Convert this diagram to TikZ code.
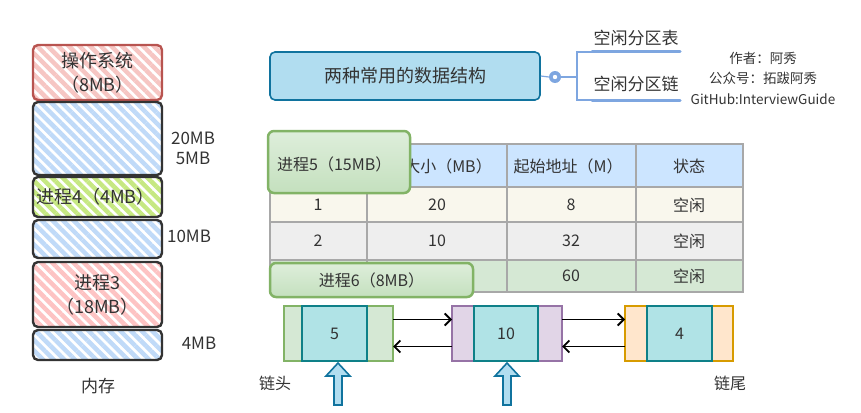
\documentclass[tikz,border=0pt]{standalone}
\usepackage{fontspec}
\setmainfont{Noto Sans CJK SC}
\usetikzlibrary{patterns.meta,arrows.meta}
\newcommand{\fsz}[2]{\fontsize{#1pt}{#2pt}\selectfont}
\definecolor{osred}{HTML}{B85450}
\definecolor{ospink}{HTML}{F6C6C3}
\definecolor{hblue}{HTML}{C0DAF8}
\definecolor{hgreen}{HTML}{C6E882}
\definecolor{hred}{HTML}{FDC3C3}
\definecolor{dark}{HTML}{333333}
\definecolor{tbfill}{HTML}{B1DDF0}
\definecolor{tbline}{HTML}{10739E}
\definecolor{treeblue}{HTML}{7EA6E0}
\definecolor{hdr}{HTML}{CCE5FF}
\definecolor{rowa}{HTML}{F9F7ED}
\definecolor{rowb}{HTML}{EEEEEE}
\definecolor{rowc}{HTML}{D5E8D4}
\definecolor{grid}{HTML}{A8A8A8}
\definecolor{gfill}{HTML}{D5E8D4}
\definecolor{gline}{HTML}{82B366}
\definecolor{pfill}{HTML}{E1D5E7}
\definecolor{pline}{HTML}{9673A6}
\definecolor{ofill}{HTML}{FFE6CC}
\definecolor{oline}{HTML}{D79B00}
\definecolor{cfill}{HTML}{B0E3E6}
\definecolor{cline}{HTML}{0E8088}
\definecolor{txt}{HTML}{333333}
\tikzset{
  membox/.style={draw=dark, line width=2.4pt, rounded corners=5pt, anchor=north west,
    minimum width=129pt, inner sep=0pt, outer sep=0pt,
    pattern={Lines[angle=-45,distance=7.5pt,line width=4.5pt]}, pattern color=#1},
  memtxt/.style={font=\fsz{18}{24}, align=center, inner sep=0pt},
  tbtxt/.style={font=\fsz{16}{18}, inner sep=0pt},
  procbox/.style={draw=gline, line width=2.5pt, rounded corners=6pt, anchor=north west,
    inner sep=0pt, outer sep=0pt,
    top color={rgb,255:red,222;green,238;blue,219}, bottom color={rgb,255:red,196;green,224;blue,190}},
  outerbox/.style={draw=#1, line width=1.6pt, anchor=north west, inner sep=0pt, outer sep=0pt, minimum height=55pt},
  innerbox/.style={draw=cline, fill=cfill, line width=1.6pt, anchor=north west, inner sep=0pt, outer sep=0pt,
    minimum height=55pt, minimum width=65pt, font=\fsz{16}{18}},
  linkarrow/.style={draw=black, line width=1.8pt, -{Straight Barb[length=6pt,width=12pt,line width=1.8pt]}},
  blockarrow/.style={draw=tbline, fill=tbfill, line width=1.6pt, line join=miter},
  treeline/.style={draw=treeblue, line width=1.2pt},
  underl/.style={draw=treeblue, line width=3pt, line cap=round},
}
\begin{document}
\begin{tikzpicture}[x=1pt,y=-1pt, every node/.style={text=txt}]
\useasboundingbox (0,0) rectangle (861,412);

% ---------------- memory column ----------------
\node[membox=ospink, draw=osred, minimum height=55pt] (os) at (33,45) {};
\node[memtxt] (ost) at (os.center) {操作系统\\（8MB）};
\node[membox=hblue, minimum height=73pt] (f1) at (33,102) {};
\node[membox=hgreen, minimum height=40pt] (p4) at (33,177) {};
\node[memtxt, anchor=west] (p4t) at (36,197) {进程4（4MB）};
\node[membox=hblue, minimum height=38pt] (f2) at (33,220) {};
\node[membox=hred, minimum height=65pt] (p3) at (33,262) {};
\node[memtxt] (p3t) at (p3.center) {进程3\\（18MB）};
\node[membox=hblue, minimum height=30pt] (f3) at (33,330) {};

\node[memtxt, font=\fsz{17}{20}] (l20) at (193,148) {20MB\\5MB};
\node[memtxt, font=\fsz{17}{20}] (l10) at (189,236) {10MB};
\node[memtxt, font=\fsz{17}{20}] (l4) at (199,343) {4MB};
\node[memtxt, font=\fsz{17}{20}] (mem) at (98,386) {内存};

% ---------------- title and tree ----------------
\node[draw=tbline, fill=tbfill, line width=1.6pt, rounded corners=5pt, minimum width=270pt,
  minimum height=48pt, font=\fsz{18}{20}, inner sep=0pt] (title) at (405,76) {两种常用的数据结构};
\node[circle, fill=treeblue, minimum size=12pt, inner sep=0pt] (dot) at (555,77) {};
\fill[white] (dot.center) circle (2.2pt);
\draw[treeline] (title.east) -- (dot.west);
\coordinate (fork) at (577,77);
\coordinate (u1) at (592,52);
\coordinate (u1e) at (680,52);
\coordinate (u2) at (592,100);
\coordinate (u2e) at (680,100);
\draw[treeline] (dot.east) -- (fork);
\draw[treeline] (fork) |- (u1);
\draw[treeline] (fork) |- (u2);
\draw[underl] (u1) -- (u1e);
\draw[underl] (u2) -- (u2e);
\node[font=\fsz{17}{20}, inner sep=0pt] (leaf1) at (636,38) {空闲分区表};
\node[font=\fsz{17}{20}, inner sep=0pt] (leaf2) at (636,84) {空闲分区链};
\node[font=\fsz{13.5}{20.5}, align=center, inner sep=0pt] (author) at (763,78) {作者：阿秀\\公众号：拓跋阿秀\\GitHub:InterviewGuide};

% ---------------- table ----------------
\fill[hdr] (270,144) rectangle (743,187);
\fill[rowa] (270,187) rectangle (743,222);
\fill[rowb] (270,222) rectangle (743,260);
\fill[rowc] (270,260) rectangle (743,292);
\draw[grid, line width=1.2pt] (270,144) rectangle (743,292);
\foreach \yy in {187,222,260} \draw[grid, line width=1.2pt] (270,\yy) -- (743,\yy);
\foreach \xx in {367,507,636} \draw[grid, line width=1.2pt] (\xx,144) -- (\xx,292);

\node[tbtxt] (h2) at (448,166) {大小（MB）};
\node[tbtxt] (h3) at (568,166) {起始地址（M）};
\node[tbtxt] (h4) at (689,166) {状态};
\node[tbtxt] (a1) at (318,205) {1};
\node[tbtxt] (a2) at (437,205) {20};
\node[tbtxt] (a3) at (571,205) {8};
\node[tbtxt] (a4) at (689,205) {空闲};
\node[tbtxt] (b1) at (318,241) {2};
\node[tbtxt] (b2) at (437,241) {10};
\node[tbtxt] (b3) at (571,241) {32};
\node[tbtxt] (b4) at (689,241) {空闲};
\node[tbtxt] (c3) at (571,276) {60};
\node[tbtxt] (c4) at (689,276) {空闲};

\node[procbox, minimum width=142pt, minimum height=62pt] (p5) at (268,131) {};
\node[tbtxt, anchor=west] (p5t) at (277,164) {进程5（15MB）};
\node[procbox, minimum width=203pt, minimum height=34pt, tbtxt] (p6) at (270,263) {进程6（8MB）};

% ---------------- linked list ----------------
\node[outerbox=gline, fill=gfill, minimum width=109pt] (n1) at (284,306) {};
\node[innerbox] (n1i) at (302,306) {5};
\node[outerbox=pline, fill=pfill, minimum width=110pt] (n2) at (452,306) {};
\node[innerbox, minimum width=64pt] (n2i) at (474,306) {10};
\node[outerbox=oline, fill=ofill, minimum width=108pt] (n3) at (625,306) {};
\node[innerbox] (n3i) at (647,306) {4};

\draw[linkarrow] ([yshift=14pt]n1.east) -- ([yshift=14pt]n2.west);
\draw[linkarrow] ([yshift=-13pt]n2.west) -- ([yshift=-13pt]n1.east);
\draw[linkarrow] ([yshift=14pt]n2.east) -- ([yshift=14pt]n3.west);
\draw[linkarrow] ([yshift=-13pt]n3.west) -- ([yshift=-13pt]n2.east);

\draw[blockarrow] (338,363) -- (350,376) -- (342,376) -- (342,405) -- (334,405) -- (334,376) -- (326,376) -- cycle;
\draw[blockarrow] (507,363) -- (519,376) -- (511,376) -- (511,405) -- (503,405) -- (503,376) -- (495,376) -- cycle;

\node[font=\fsz{16}{18}, inner sep=0pt] (head) at (275,383) {链头};
\node[font=\fsz{16}{18}, inner sep=0pt] (tail) at (730,383) {链尾};
\end{tikzpicture}
\end{document}
